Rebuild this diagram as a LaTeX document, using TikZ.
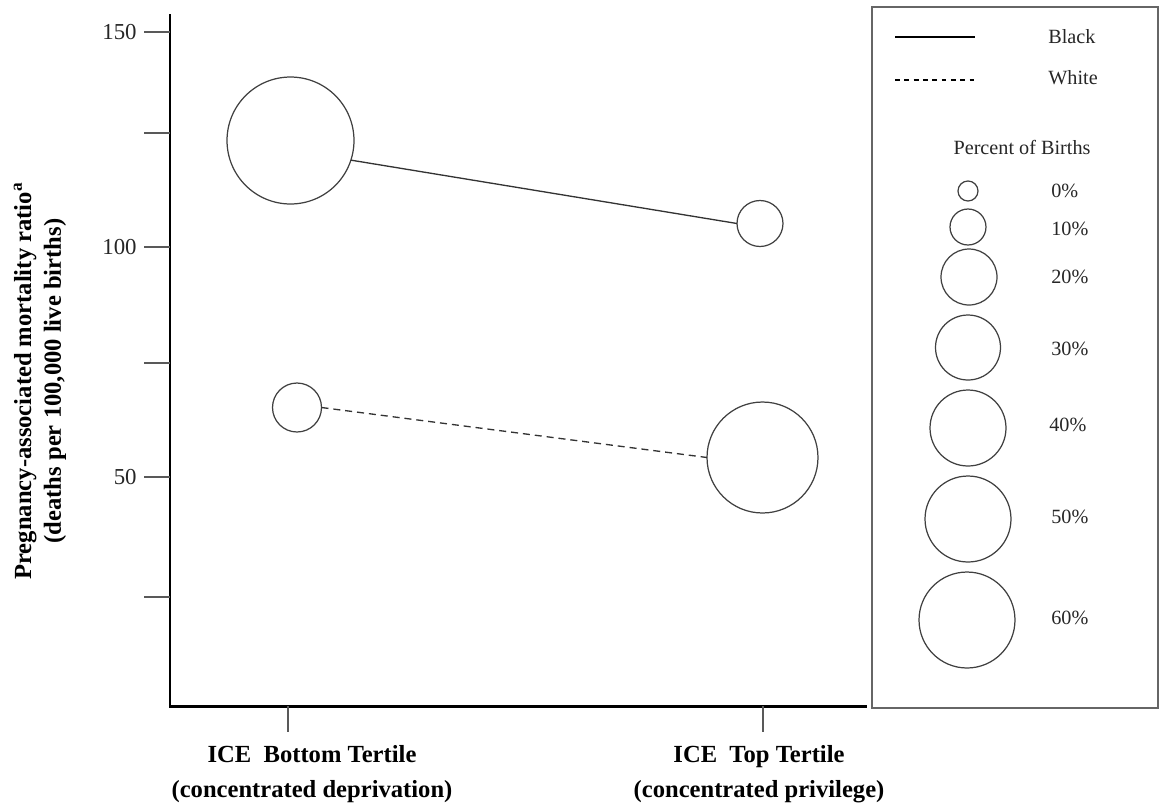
\documentclass[tikz,border=0pt]{standalone}
\usepackage{fontspec}
\setmainfont{Liberation Serif}
\usepackage{tikz}
\tikzstyle{bubble} = [circle, draw = black!75, line width = 0.7pt, inner sep = 0pt, outer sep = 0pt, fill = white]
\tikzstyle{axistick} = [draw = black!65, line width = 0.85pt]
\tikzstyle{ticklabel} = [anchor = east, inner sep = 0pt, text = black!85, font = \fontsize{13}{15}\selectfont]
\tikzstyle{axislabel} = [align = center, inner sep = 0pt, font = \fontsize{14}{20}\selectfont\bfseries]
\tikzstyle{keylabel} = [anchor = west, inner sep = 0pt, text = black!85, font = \fontsize{11.5}{13}\selectfont]
\tikzstyle{trend} = [draw = black!80, line width = 0.75pt]

\begin{document}
\begin{tikzpicture}[x = 0.02cm, y = -0.02cm]
	\useasboundingbox (0,0) rectangle (1160,806);

	\coordinate (ytop) at (170,14);
	\coordinate (origin) at (170,706);
	\coordinate (xend) at (867,706);
	\draw [line width = 1.7pt] (ytop) -- (origin) -- (xend);

	\draw [axistick] (144,32) -- (170,32);
	\draw [axistick] (144,133) -- (170,133);
	\draw [axistick] (144,247) -- (170,247);
	\draw [axistick] (144,363) -- (170,363);
	\draw [axistick] (144,477) -- (170,477);
	\draw [axistick] (144,597) -- (170,597);
	\draw [axistick] (288,706) -- (288,732);
	\draw [axistick] (763,706) -- (763,732);

	\node (l150)[ticklabel] at (137,32) {150};
	\node (l100)[ticklabel] at (137,247) {100};
	\node (l50)[ticklabel] at (137,477) {50};

	\node (xbot)[axislabel, anchor = north] at (312,745) {ICE\ \ Bottom Tertile\\(concentrated deprivation)};
	\node (xtop)[axislabel, anchor = north] at (759,745) {ICE\ \ Top Tertile\\(concentrated privilege)};
	\node (ylab)[axislabel, rotate = 90, font = \fontsize{14}{17}\selectfont\bfseries] at (40,381) {Pregnancy-associated mortality ratio\textsuperscript{a}\\(deaths per 100,000 live births)};

	\node (bbot)[bubble, minimum size = 2.54cm] at (290.5,140.5) {};
	\node (btop)[bubble, minimum size = 0.92cm] at (760,223.5) {};
	\node (wbot)[bubble, minimum size = 0.98cm] at (297,407.5) {};
	\node (wtop)[bubble, minimum size = 2.22cm] at (762.5,457.5) {};

	\draw [trend] (bbot.-18) -- (btop.west);
	\draw [trend, dash pattern = on 4pt off 2.8pt] (wbot.east) -- (wtop.west);

	\draw [draw = black!60, line width = 0.85pt] (872,7) rectangle (1158,708);
	\coordinate (solidA) at (895,37);
	\coordinate (solidB) at (975,37);
	\coordinate (dashA) at (895,80);
	\coordinate (dashB) at (975,80);
	\draw [line width = 1.4pt] (solidA) -- (solidB);
	\draw [line width = 1pt, dash pattern = on 2.8pt off 2.5pt] (dashA) -- (dashB);
	\node (kblack)[keylabel] at (1048,37) {Black};
	\node (kwhite)[keylabel] at (1048,78) {White};
	\node (kpct)[keylabel, anchor = center] at (1022,147) {Percent of Births};

	\node (k0)[bubble, minimum size = 0.40cm] at (968,191) {};
	\node (k10)[bubble, minimum size = 0.72cm] at (968,227) {};
	\node (k20)[bubble, minimum size = 1.12cm] at (969,277) {};
	\node (k30)[bubble, minimum size = 1.30cm] at (968,347.5) {};
	\node (k40)[bubble, minimum size = 1.52cm] at (968,428) {};
	\node (k50)[bubble, minimum size = 1.72cm] at (968,519) {};
	\node (k60)[bubble, minimum size = 1.92cm] at (967,620) {};

	\node (p0)[keylabel] at (1051,191) {0\%};
	\node (p10)[keylabel] at (1051,229) {10\%};
	\node (p20)[keylabel] at (1051,277) {20\%};
	\node (p30)[keylabel] at (1051,349) {30\%};
	\node (p40)[keylabel] at (1049,425) {40\%};
	\node (p50)[keylabel] at (1051,517) {50\%};
	\node (p60)[keylabel] at (1051,618) {60\%};
\end{tikzpicture}
\end{document}
